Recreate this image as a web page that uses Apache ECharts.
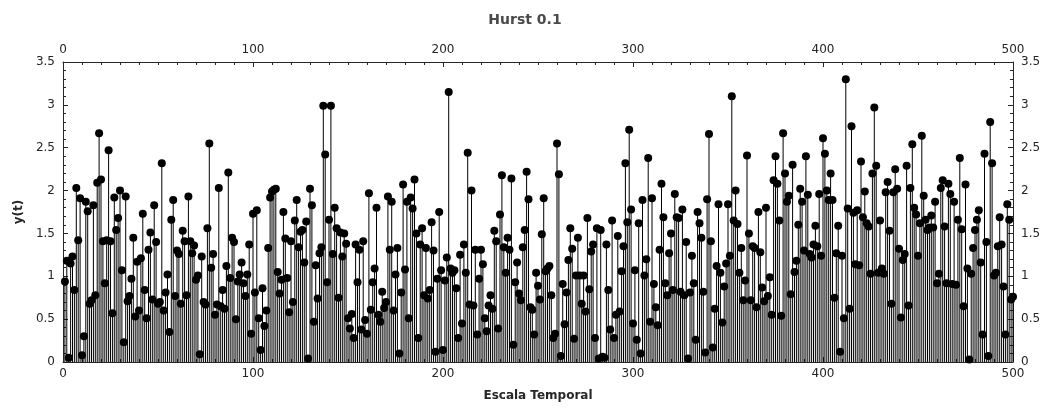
<!DOCTYPE html>
<html>
<head>
<meta charset="utf-8">
<script src="https://cdn.jsdelivr.net/npm/echarts@6/dist/echarts.min.js"></script>
<style>html,body{margin:0;padding:0;background:#fff}#c{width:1050px;height:413px}</style>
</head>
<body>
<div id="c"></div>
<script>
const chartTitle = 'Hurst 0.1';
const xName = 'Escala Temporal';
const yName = 'y(t)';
const xTickValues = [0, 100, 200, 300, 400, 500];
const yTickValues = [0, 0.5, 1, 1.5, 2, 2.5, 3, 3.5];
const yValues = [
0.94,1.18,0.05,1.15,1.23,0.84,2.03,1.42,1.91,0.08,0.30,1.87,1.76,0.68,0.72,1.83,0.78,2.09,2.67,2.13,1.41,0.92,1.42,2.47,1.41,0.57,1.92,1.54,1.68,2.0,1.07,0.23,1.93,0.71,0.77,0.97,1.45,0.53,1.17,0.6,
1.21,1.73,0.84,0.51,1.31,1.51,0.73,1.83,1.40,0.68,0.70,2.32,0.60,0.81,1.02,0.35,1.66,1.89,0.77,1.30,1.26,0.68,1.53,1.41,0.78,1.93,1.41,1.27,1.36,0.96,1.01,0.09,1.23,0.70,0.67,1.56,2.55,1.10,1.26,0.55,0.67,2.03,
0.65,0.84,0.62,1.12,2.21,0.98,1.45,1.40,0.50,0.94,1.02,1.16,0.92,0.77,1.02,1.37,0.33,1.73,0.81,1.77,0.51,0.14,0.86,0.42,0.60,1.33,1.92,1.99,2.01,2.02,1.05,0.80,0.96,1.75,1.44,0.98,0.58,1.41,0.70,1.65,1.89,1.34,
1.52,1.54,1.16,1.64,0.04,2.02,1.83,0.47,1.13,0.74,1.27,1.34,2.99,2.42,0.93,1.66,2.99,1.26,1.80,1.56,0.75,1.51,1.23,1.50,1.38,0.51,0.39,0.56,0.28,1.37,0.93,1.31,0.38,1.41,0.49,0.33,1.97,0.61,0.93,1.09,1.80,0.55,
0.47,0.82,0.63,0.70,1.93,1.31,1.87,0.60,1.02,1.33,0.10,0.81,2.07,1.08,1.87,0.51,1.92,1.79,2.13,1.50,0.28,1.37,1.56,0.78,1.33,0.74,0.84,1.63,1.30,0.12,0.97,1.75,1.07,0.14,0.95,1.22,3.15,1.09,1.04,1.07,0.86,0.28,
1.25,0.45,1.37,1.04,2.44,0.67,2.00,0.66,1.31,0.32,0.97,1.31,1.14,0.51,0.36,0.66,0.78,0.62,1.53,1.41,0.39,1.72,2.18,1.34,1.04,1.45,1.31,2.14,0.20,0.93,1.16,0.80,0.72,1.34,1.54,2.22,1.90,0.64,0.61,0.32,1.04,0.89,
0.73,1.49,1.91,1.06,1.09,1.12,0.78,0.28,0.33,2.55,2.19,0.07,0.91,0.44,0.81,1.19,1.56,1.32,0.27,1.01,1.45,1.01,0.68,1.01,0.59,1.68,0.85,1.29,1.37,0.28,1.56,0.04,1.54,0.06,0.05,1.37,0.84,0.38,1.65,0.28,0.55,1.47,
0.59,1.06,1.35,2.32,1.63,2.71,1.78,0.45,1.07,0.26,1.62,0.10,1.89,1.01,1.20,2.38,0.47,1.91,0.91,0.64,0.43,1.31,2.08,1.69,0.92,0.78,1.27,1.50,0.84,1.96,1.69,1.68,0.82,1.78,0.78,1.40,0.04,0.81,1.24,0.92,0.26,1.75,
1.62,1.45,0.82,0.11,1.90,2.66,1.41,0.17,0.62,1.12,1.84,1.04,0.46,0.88,1.15,1.84,1.24,3.10,1.65,2.00,1.61,1.04,1.33,0.72,0.95,2.41,1.50,0.72,1.35,1.33,0.64,1.75,1.28,0.87,0.71,1.80,0.77,0.99,0.55,2.12,2.40,2.08,
1.65,0.54,2.67,2.20,1.87,1.94,0.79,2.30,1.05,1.18,1.60,2.02,1.87,1.30,2.40,1.95,1.26,1.22,1.37,1.59,1.35,1.96,1.24,2.61,2.43,2.00,1.89,2.20,1.89,0.75,1.27,1.59,0.12,1.24,0.51,3.30,1.79,0.62,2.75,1.74,1.14,1.77,
1.13,2.34,1.69,1.99,1.62,1.58,1.03,2.20,2.97,2.29,1.04,1.65,1.09,1.03,1.98,2.10,1.53,0.68,1.98,2.25,2.02,1.32,0.52,1.19,1.26,2.29,0.66,2.03,2.54,1.80,1.72,1.24,1.62,2.64,1.94,1.66,1.54,1.57,1.71,1.57,1.87,0.92,
1.03,2.03,2.12,1.58,0.92,2.08,1.96,0.91,1.87,0.90,1.66,2.38,1.55,0.65,2.07,1.09,0.03,1.03,1.33,1.54,1.66,1.77,1.16,0.32,2.43,1.40,0.07,2.80,2.32,1.01,1.04,1.35,1.69,1.37,0.88,0.32,1.84,1.66,0.73,0.76
];

const pts = yValues.map((v, i) => [i + 1, v]);
const axisColor = '#262626';
const textColor = '#262626';
const font = 'DejaVu Sans';

function xAx(pos) {
  return {
    type: 'value', min: xTickValues[0], max: xTickValues[xTickValues.length - 1],
    interval: xTickValues[1] - xTickValues[0], position: pos,
    axisLine: { show: true, onZero: false, lineStyle: { color: axisColor, width: 1 } },
    axisTick: { show: true, inside: true, length: 5, lineStyle: { color: axisColor } },
    minorTick: { show: true, splitNumber: 10, length: 3, lineStyle: { color: axisColor } },
    axisLabel: { show: true, color: textColor, fontFamily: font, fontSize: 12, margin: 6 },
    splitLine: { show: false },
    name: pos === 'bottom' ? xName : '', nameLocation: 'middle', nameGap: 28,
    nameTextStyle: { fontWeight: 'bold', fontFamily: font, fontSize: 12, color: textColor }
  };
}
function yAx(pos) {
  return {
    type: 'value', min: yTickValues[0], max: yTickValues[yTickValues.length - 1],
    interval: yTickValues[1] - yTickValues[0], position: pos,
    axisLine: { show: true, onZero: false, lineStyle: { color: axisColor, width: 1 } },
    axisTick: { show: true, inside: true, length: 5, lineStyle: { color: axisColor } },
    minorTick: { show: true, splitNumber: 5, length: 3, lineStyle: { color: axisColor } },
    axisLabel: { show: true, color: textColor, fontFamily: font, fontSize: 12, margin: 8 },
    splitLine: { show: false },
    name: pos === 'left' ? yName : '', nameLocation: 'middle', nameGap: 36, nameRotate: 90,
    nameTextStyle: { fontWeight: 'bold', fontFamily: font, fontSize: 12, color: textColor }
  };
}

const chart = echarts.init(document.getElementById('c'), null, { renderer: 'canvas' });
chart.setOption({
  animation: false,
  backgroundColor: '#fff',
  title: { text: chartTitle, left: 'center', top: 8,
    textStyle: { fontFamily: font, fontSize: 14, fontWeight: 'bold', color: '#4a4a4a' } },
  grid: { left: 63, right: 37, top: 62, bottom: 51 },
  xAxis: [xAx('bottom'), xAx('top')],
  yAxis: [yAx('left'), yAx('right')],
  series: [
    { type: 'bar', data: pts, barWidth: 1, itemStyle: { color: '#000', opacity: 1 }, silent: true, z: 2 },
    { type: 'scatter', data: pts, symbol: 'circle', symbolSize: 8, itemStyle: { color: '#000', opacity: 1 }, silent: true, z: 3 }
  ]
});
</script>
</body>
</html>
